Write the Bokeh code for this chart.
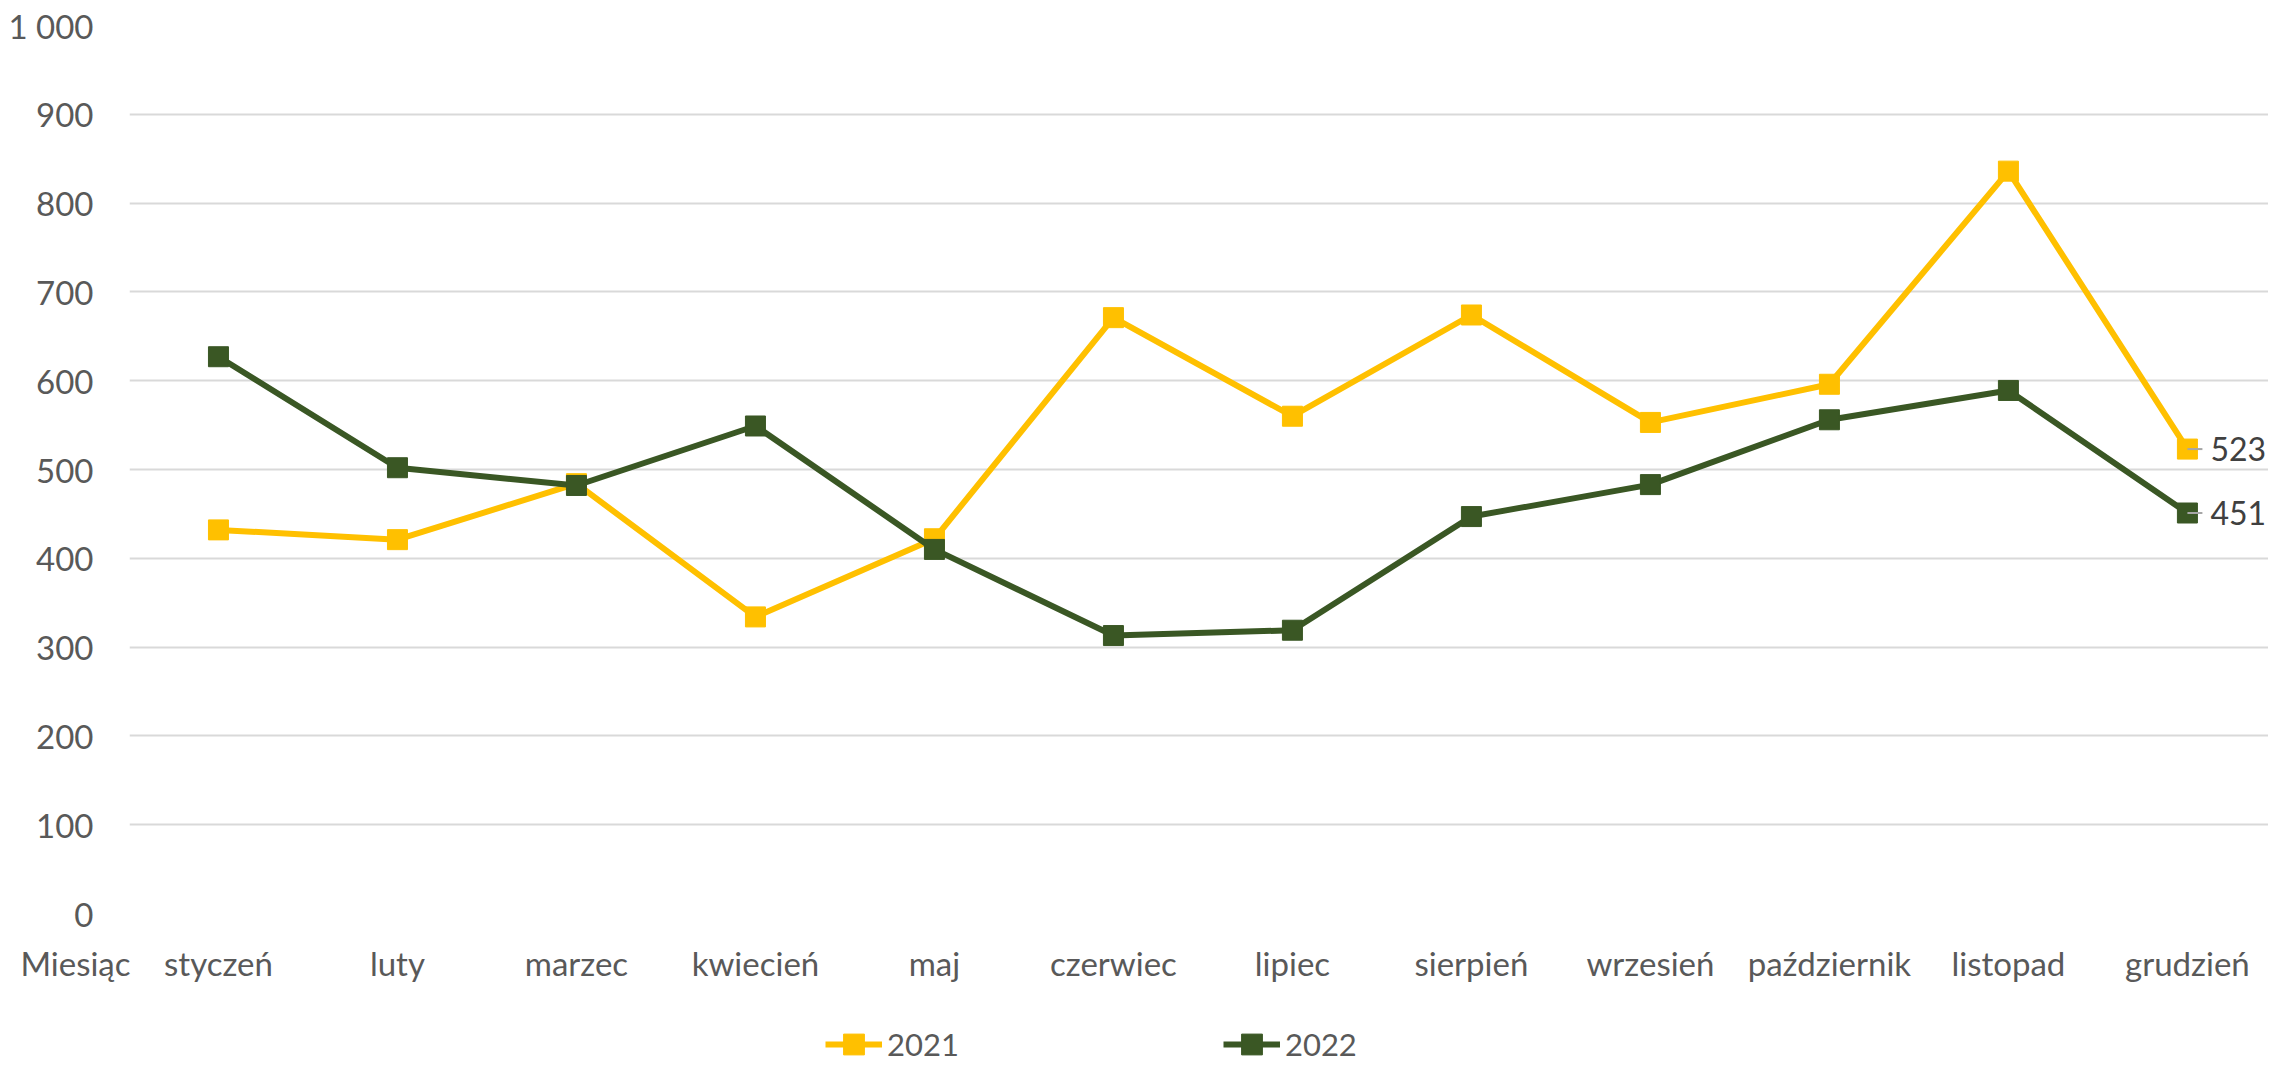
from bokeh.plotting import figure
from bokeh.layouts import column
from bokeh.models import (FixedTicker, Range1d, LabelSet, ColumnDataSource,
                          Legend, LegendItem)
from bokeh.core.properties import value
from bokeh.embed import file_html
from bokeh.resources import INLINE

# ---- data ----
months = ["styczeń", "luty", "marzec", "kwiecień", "maj", "czerwiec", "lipiec",
          "sierpień", "wrzesień", "październik", "listopad", "grudzień"]
axis_title = "Miesiąc"
series_names = ["2021", "2022"]
series_2021 = [432, 421, 484, 334, 422, 671, 560, 674, 553, 596, 836, 523]
series_2022 = [627, 502, 482, 549, 410, 313, 319, 447, 483, 556, 589, 451]
y_ticks = [0, 100, 200, 300, 400, 500, 600, 700, 800, 900, 1000]
y_tick_labels = ["0", "100", "200", "300", "400", "500", "600", "700", "800", "900", "1 000"]

YELLOW = "#FFC000"
GREEN = "#3A5724"
TXT = "#595959"
FONT = "Lato"
W = 2268

xs = list(range(1, len(months) + 1))
X_START, X_END = 0.503, 12.453
title_tick = X_START + 0.005

p = figure(width=W, height=990, output_backend="svg", toolbar_location=None,
           x_range=Range1d(X_START, X_END), y_range=Range1d(0, 1000),
           min_border_left=129, min_border_right=0, min_border_top=25,
           min_border_bottom=77)
p.outline_line_color = None
p.background_fill_color = "white"
p.border_fill_color = "white"

# axes
p.xaxis.ticker = FixedTicker(ticks=[title_tick] + xs)
labels = {x: m for x, m in zip(xs, months)}
labels[title_tick] = axis_title + "\u00a0" * 13
p.xaxis.major_label_overrides = labels
p.yaxis.ticker = FixedTicker(ticks=y_ticks)
p.yaxis.major_label_overrides = {t: l for t, l in zip(y_ticks, y_tick_labels)}
for ax in (p.xaxis, p.yaxis):
    ax.axis_line_color = None
    ax.major_tick_line_color = None
    ax.minor_tick_line_color = None
    ax.major_tick_out = 0
    ax.major_tick_in = 0
    ax.major_label_text_font = FONT
    ax.major_label_text_font_size = "33px"
    ax.major_label_text_color = TXT
p.xaxis.major_label_standoff = 29
p.yaxis.major_label_standoff = 36

p.xgrid.grid_line_color = None
p.ygrid.grid_line_color = "#D9D9D9"
p.ygrid.grid_line_width = 2

# series
p.line(xs, series_2021, line_color=YELLOW, line_width=6)
p.scatter(xs, series_2021, marker="square", size=20, fill_color=YELLOW, line_color=YELLOW)
p.line(xs, series_2022, line_color=GREEN, line_width=6)
p.scatter(xs, series_2022, marker="square", size=20, fill_color=GREEN, line_color=GREEN)

# data labels for last point
last = ColumnDataSource(dict(x=[xs[-1], xs[-1]],
                             y=[series_2021[-1], series_2022[-1]],
                             t=[str(series_2021[-1]), str(series_2022[-1])]))
p.ray(x="x", y="y", length=15, length_units="screen", angle=0, source=last,
      line_color="#A6A6A6", line_width=2)
p.add_layout(LabelSet(x="x", y="y", text="t", source=last, x_offset=23,
                      text_align="left", text_baseline="middle",
                      text_font=value(FONT), text_font_size=value("32px"),
                      text_color="#404040"))

# ---- legend strip below the chart ----
lg = figure(width=W, height=75, output_backend="svg", toolbar_location=None,
            x_axis_location=None, y_axis_location=None,
            x_range=Range1d(X_START, X_END), y_range=Range1d(0, 1000),
            min_border=0)
lg.outline_line_color = None
lg.grid.grid_line_color = None
r = []
for ys, col in ((series_2021, YELLOW), (series_2022, GREEN)):
    ln = lg.line(xs, ys, line_color=col, line_width=6, visible=False)
    sc = lg.scatter(xs, ys, marker="square", size=20, fill_color=col, line_color=col,
                    visible=False)
    r.append([ln, sc])

legend = Legend(items=[LegendItem(label=series_names[0], renderers=r[0]),
                       LegendItem(label=series_names[1], renderers=r[1])],
                orientation="horizontal", location=(696, -5),
                spacing=264, padding=0, margin=0,
                glyph_width=57, glyph_height=52, label_height=30, label_standoff=5,
                label_text_font=FONT, label_text_font_size="31px",
                label_text_color=TXT, border_line_color=None,
                background_fill_alpha=0, inactive_fill_alpha=0)
lg.add_layout(legend, "center")

open("out.html", "w").write(file_html(column(p, lg, spacing=0), INLINE))
